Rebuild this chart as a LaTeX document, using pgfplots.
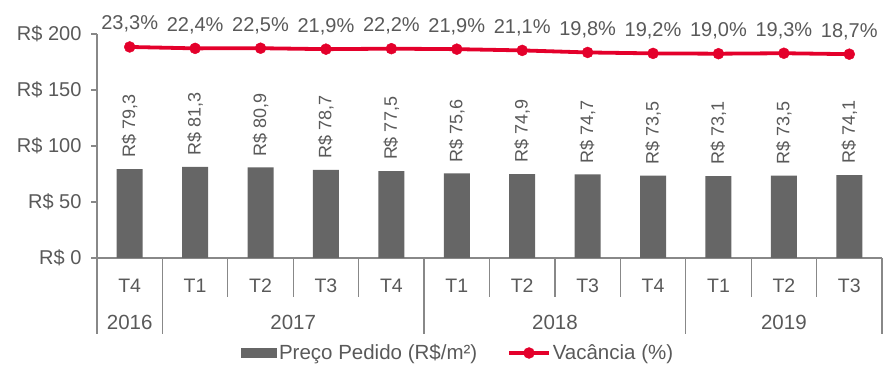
\documentclass[border=0pt]{standalone}
\usepackage{fontspec}
\setmainfont{Liberation Sans}
\usepackage{pgfplots}
\pgfplotsset{compat=1.18}
\definecolor{txt}{HTML}{595959}
\definecolor{barc}{HTML}{666666}
\definecolor{vred}{HTML}{E4002B}
\definecolor{axc}{HTML}{888888}
\begin{document}
\begin{tikzpicture}
\path[use as bounding box] (0,0) rectangle (883pt,366pt);
\begin{axis}[
  at={(97pt,108pt)}, anchor=south west,
  scale only axis, width=785pt, height=224pt,
  xmin=-0.5, xmax=11.5, ymin=0, ymax=200,
  clip=false,
  axis x line*=bottom, axis y line*=left,
  axis line style={axc, line width=1.2pt},
  /pgf/number format/assume math mode=true,
  ytick={0,50,100,150,200},
  yticklabel={R\$ \pgfmathprintnumber{\tick}},
  yticklabel style={font=\fontsize{20}{24}\selectfont, text=txt, xshift=-6pt},
  ytick style={axc, line width=1.2pt},
  tick align=outside, major tick length=6pt,
  xtick={0,...,11},
  xticklabels={T4,T1,T2,T3,T4,T1,T2,T3,T4,T1,T2,T3},
  x tick style={draw=none},
  xticklabel style={font=\fontsize{19.5}{23}\selectfont, text=txt, anchor=base, yshift=-29pt},
  legend style={at={(0.46,0)}, anchor=center, yshift=-95pt, draw=none, fill=none,
    font=\fontsize{20.5}{24}\selectfont, text=txt,
    /tikz/every even column/.append style={column sep=28pt}},
  legend columns=2,
]
\addplot[ybar, bar width=26pt, fill=barc, draw=none,
  legend image code/.code={\fill[barc] (0pt,-5pt) rectangle (36pt,5pt);},
  nodes near coords={R\$ \pgfmathprintnumber[fixed,fixed zerofill,precision=1,use comma]{\pgfplotspointmeta}},
  every node near coord/.append style={rotate=90, anchor=west, inner xsep=11pt, inner ysep=0pt,
    font=\fontsize{18}{21}\selectfont, text=txt}]
coordinates {(0,79.3) (1,81.3) (2,80.9) (3,78.7) (4,77.5) (5,75.6) (6,74.9) (7,74.7) (8,73.5) (9,73.1) (10,73.5) (11,74.1)};
\addlegendentry{Preço Pedido (R\$/m²)}
\addlegendimage{legend image code/.code={\draw[vred, line width=3.5pt] (0pt,0pt) -- (40pt,0pt); \fill[vred] (20pt,0pt) circle (5.5pt);}}
\addlegendentry{Vacância (\%)}
\pgfplotsinvokeforeach{-0.5,0.5,4.5,8.5,11.5}{\draw[axc, line width=1.2pt] (axis cs:#1,0) -- ++(0pt,-76pt);}
\pgfplotsinvokeforeach{1.5,2.5,3.5,5.5,6.5,7.5,9.5,10.5}{\draw[axc, line width=1.2pt] (axis cs:#1,0) -- ++(0pt,-39pt);}
\node[anchor=base, font=\fontsize{20.5}{24}\selectfont, text=txt, yshift=-72pt] at (axis cs:0,0) {2016};
\node[anchor=base, font=\fontsize{20.5}{24}\selectfont, text=txt, yshift=-72pt] at (axis cs:2.5,0) {2017};
\node[anchor=base, font=\fontsize{20.5}{24}\selectfont, text=txt, yshift=-72pt] at (axis cs:6.5,0) {2018};
\node[anchor=base, font=\fontsize{20.5}{24}\selectfont, text=txt, yshift=-72pt] at (axis cs:10,0) {2019};
\end{axis}
\begin{axis}[
  at={(97pt,108pt)}, anchor=south west,
  scale only axis, width=785pt, height=224pt,
  xmin=-0.5, xmax=11.5, ymin=-111.29, ymax=31.57,
  hide axis, clip=false,
]
\addplot[vred, line width=3.8pt, mark=*, mark size=5.5pt,
  mark options={solid, line width=0.4pt, fill=vred, draw=vred},
  nodes near coords={\pgfmathprintnumber[fixed,fixed zerofill,precision=1,use comma,assume math mode=true]{\pgfplotspointmeta}\%},
  every node near coord/.append style={anchor=base, yshift=17pt, inner sep=0pt,
    font=\fontsize{20}{24}\selectfont, text=txt}]
coordinates {(0,23.3) (1,22.4) (2,22.5) (3,21.9) (4,22.2) (5,21.9) (6,21.1) (7,19.8) (8,19.2) (9,19.0) (10,19.3) (11,18.7)};
\end{axis}
\end{tikzpicture}
\end{document}
